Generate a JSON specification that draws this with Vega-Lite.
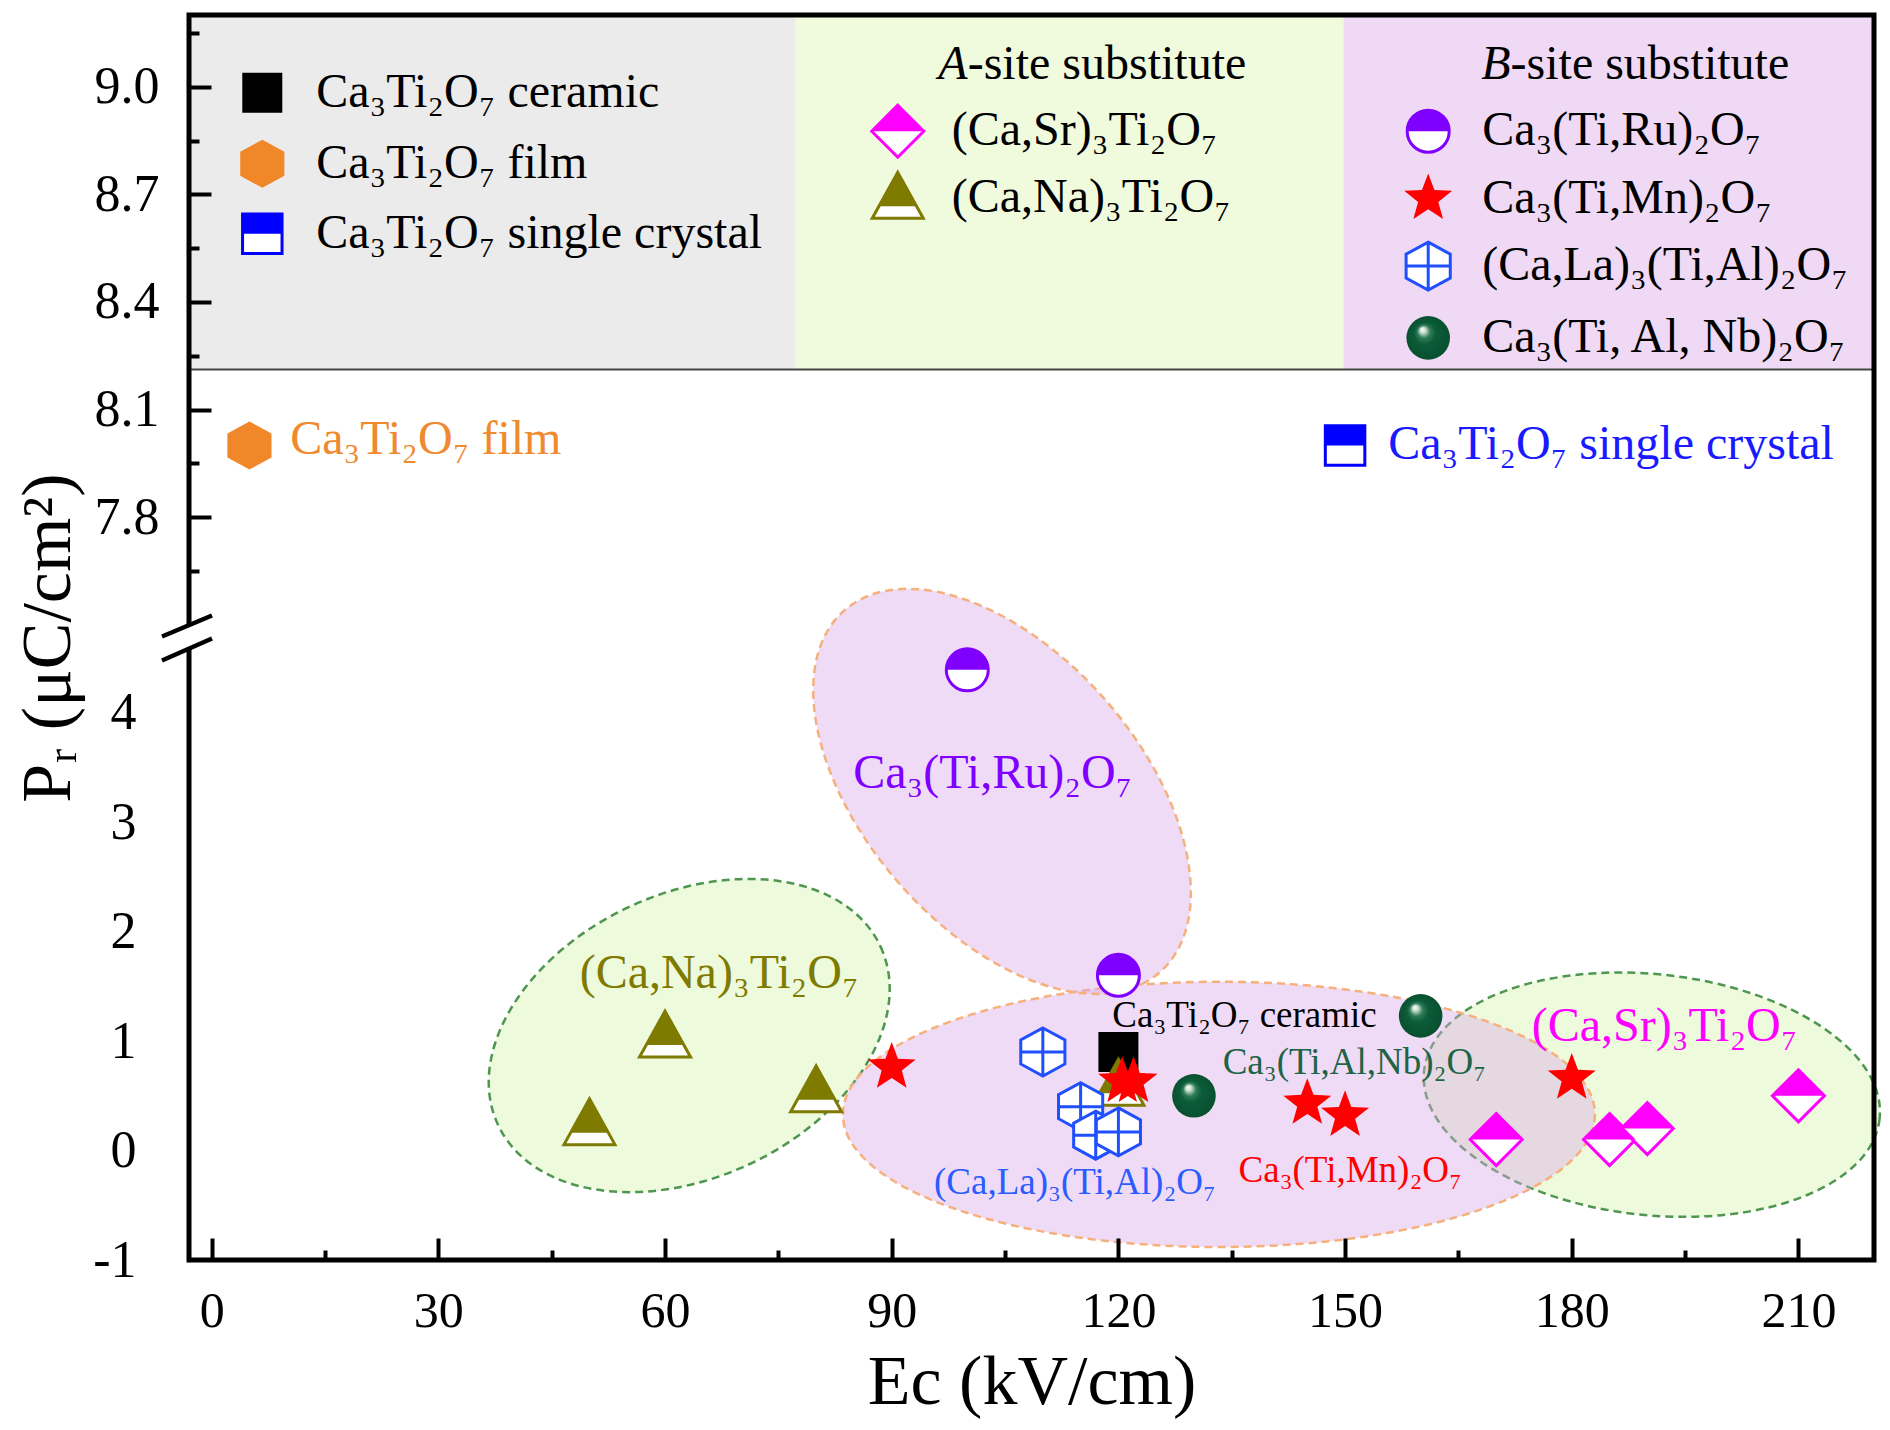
{
  "$schema": "https://vega.github.io/schema/vega-lite/v6.json",
  "width": 1685,
  "height": 1245,
  "autosize": {"type": "none"},
  "padding": {"left": 189, "top": 15, "right": 16, "bottom": 170},
  "background": "white",
  "config": {"view": {"stroke": null}, "font": "Liberation Serif"},
  "datasets": {
    "pts": [
      {"s": "ceramic", "Ec": 120, "Pr": 0.9},
      {"s": "film", "Ec": 5, "Pr": 8.0},
      {"s": "crystal", "Ec": 150, "Pr": 8.0},
      {"s": "Sr", "Ec": 170, "Pr": 0.1},
      {"s": "Sr", "Ec": 185, "Pr": 0.1},
      {"s": "Sr", "Ec": 190, "Pr": 0.2},
      {"s": "Sr", "Ec": 210, "Pr": 0.5},
      {"s": "Na", "Ec": 50, "Pr": 0.24},
      {"s": "Na", "Ec": 60, "Pr": 1.04},
      {"s": "Na", "Ec": 80, "Pr": 0.54},
      {"s": "Na", "Ec": 120, "Pr": 0.6},
      {"s": "Ru", "Ec": 100, "Pr": 4.39},
      {"s": "Ru", "Ec": 120, "Pr": 1.6},
      {"s": "Mn", "Ec": 90, "Pr": 0.76},
      {"s": "Mn", "Ec": 120.5, "Pr": 0.63},
      {"s": "Mn", "Ec": 122, "Pr": 0.63},
      {"s": "Mn", "Ec": 145, "Pr": 0.43},
      {"s": "Mn", "Ec": 150, "Pr": 0.32},
      {"s": "Mn", "Ec": 180, "Pr": 0.66},
      {"s": "La", "Ec": 110, "Pr": 0.9},
      {"s": "La", "Ec": 115, "Pr": 0.4},
      {"s": "La", "Ec": 117, "Pr": 0.14},
      {"s": "La", "Ec": 120, "Pr": 0.17},
      {"s": "Nb", "Ec": 130, "Pr": 0.5},
      {"s": "Nb", "Ec": 160, "Pr": 1.23},
      {"s": "ceramic", "Ec": 6.7, "Pr": 8.983, "label": "Ca\u2083Ti\u2082O\u2087 ceramic"},
      {"s": "film", "Ec": 6.7, "Pr": 8.785, "label": "Ca\u2083Ti\u2082O\u2087 film"},
      {"s": "crystal", "Ec": 6.7, "Pr": 8.59, "label": "Ca\u2083Ti\u2082O\u2087 single crystal"},
      {"s": "Sr", "Ec": 90.8, "Pr": 8.876, "label": "(Ca,Sr)\u2083Ti\u2082O\u2087"},
      {"s": "Na", "Ec": 90.8, "Pr": 8.69, "label": "(Ca,Na)\u2083Ti\u2082O\u2087"},
      {"s": "Ru", "Ec": 161, "Pr": 8.876, "label": "Ca\u2083(Ti,Ru)\u2082O\u2087"},
      {"s": "Mn", "Ec": 161, "Pr": 8.688, "label": "Ca\u2083(Ti,Mn)\u2082O\u2087"},
      {"s": "La", "Ec": 161, "Pr": 8.5, "label": "(Ca,La)\u2083(Ti,Al)\u2082O\u2087"},
      {"s": "Nb", "Ec": 161, "Pr": 8.3, "label": "Ca\u2083(Ti, Al, Nb)\u2082O\u2087"}
    ],
    "ann": [
      {"s": "film", "k": "b", "Ec": 10.4, "Pr": 8.015, "t": "Ca\u2083Ti\u2082O\u2087 film"},
      {"s": "crystal", "k": "b", "Ec": 155.7, "Pr": 8.0, "t": "Ca\u2083Ti\u2082O\u2087 single crystal"},
      {"s": "Ru", "k": "b", "Ec": 84.9, "Pr": 3.44, "t": "Ca\u2083(Ti,Ru)\u2082O\u2087"},
      {"s": "Na", "k": "b", "Ec": 48.7, "Pr": 1.61, "t": "(Ca,Na)\u2083Ti\u2082O\u2087"},
      {"s": "Sr", "k": "b", "Ec": 174.7, "Pr": 1.13, "t": "(Ca,Sr)\u2083Ti\u2082O\u2087"},
      {"s": "ceramic", "k": "s", "Ec": 119.2, "Pr": 1.23, "t": "Ca\u2083Ti\u2082O\u2087 ceramic"},
      {"s": "Nb", "k": "s", "Ec": 133.8, "Pr": 0.8, "t": "Ca\u2083(Ti,Al,Nb)\u2082O\u2087"},
      {"s": "Mn", "k": "s", "Ec": 135.9, "Pr": -0.19, "t": "Ca\u2083(Ti,Mn)\u2082O\u2087"},
      {"s": "La", "k": "s", "Ec": 95.6, "Pr": -0.3, "t": "(Ca,La)\u2083(Ti,Al)\u2082O\u2087"}
    ],
    "hdr": [
      {"p": "it", "t": "A", "Ec": 100.05, "Pr": 9.06},
      {"p": "rm", "t": "-site substitute", "Ec": 100.05, "Pr": 9.06},
      {"p": "it", "t": "B", "Ec": 171.9, "Pr": 9.06},
      {"p": "rm", "t": "-site substitute", "Ec": 171.9, "Pr": 9.06}
    ],
    "ell": [
      {"e": "Na", "Ec": 63.2, "Pr": 1.05},
      {"e": "Sr", "Ec": 190.6, "Pr": 0.51},
      {"e": "B", "Ec": 133.3, "Pr": 0.33},
      {"e": "Ru", "Ec": 104.6, "Pr": 3.28}
    ]
  },
  "layer": [
    {
      "data": {"values": [{}]},
      "mark": {"type": "rect", "fill": "#ebebeb"},
      "encoding": {
        "x": {
          "datum": -3, "type": "quantitative",
          "scale": {"domain": [-3, 220], "nice": false, "zero": false},
          "axis": {
            "values": [0, 15, 30, 45, 60, 75, 90, 105, 120, 135, 150, 165, 180, 195, 210],
            "title": "Ec (kV/cm)",
            "titleFont": "Liberation Serif", "titleFontSize": 70, "titleFontWeight": "normal", "titleColor": "black", "titlePadding": 0,
            "labelFont": "Liberation Serif", "labelFontSize": 50, "labelColor": "black", "labelPadding": 48,
            "labelExpr": "datum.value % 30 === 0 ? datum.label : ''",
            "labelFlush": false, "labelOverlap": false,
            "tickSize": {"condition": {"test": "datum.value % 30 === 0", "value": -22}, "value": -10},
            "tickWidth": 4, "tickColor": "black",
            "domain": false, "grid": false, "zindex": 1
          }
        },
        "x2": {"datum": 77.2},
        "y": {
          "datum": 8.212, "type": "quantitative",
          "scale": {"domain": [-1, 4.69, 7.466, 9.2], "range": [1245, 622, 622, 0], "nice": false, "zero": false},
          "axis": {
            "values": [-1, -0.5, 0, 0.5, 1, 1.5, 2, 2.5, 3, 3.5, 4, 4.5, 7.65, 7.8, 7.95, 8.1, 8.25, 8.4, 8.55, 8.7, 8.85, 9, 9.15],
            "title": "P\u1d63 (\u03bcC/cm\u00b2)",
            "titleFont": "Liberation Serif", "titleFontSize": 70, "titleFontWeight": "normal", "titleColor": "black", "titlePadding": 8,
            "labelFont": "Liberation Serif", "labelFontSize": 52, "labelColor": "black", "labelPadding": 52,
            "labelExpr": "datum.value < 5 ? (round(datum.value*100) % 100 === 0 ? '' + datum.value : '') : (round(datum.value*100) % 30 === 0 ? format(datum.value, '.1f') : '')",
            "labelFlush": false, "labelOverlap": false,
            "tickSize": {"condition": {"test": "datum.value < 5 ? round(datum.value*100) % 100 === 0 : round(datum.value*100) % 30 === 0", "value": -22}, "value": -10},
            "tickWidth": 4, "tickColor": "black",
            "domain": false, "grid": false, "zindex": 1
          }
        },
        "y2": {"datum": 9.2}
      }
    },
    {
      "data": {"values": [{}]},
      "mark": {"type": "rect", "fill": "#f0fadd"},
      "encoding": {"x": {"datum": 77.2, "type": "quantitative"}, "x2": {"datum": 149.8}, "y": {"datum": 8.212, "type": "quantitative"}, "y2": {"datum": 9.2}}
    },
    {
      "data": {"values": [{}]},
      "mark": {"type": "rect", "fill": "#efd9f4"},
      "encoding": {"x": {"datum": 149.8, "type": "quantitative"}, "x2": {"datum": 220}, "y": {"datum": 8.212, "type": "quantitative"}, "y2": {"datum": 9.2}}
    },
    {
      "data": {"values": [{}]},
      "mark": {"type": "rule", "stroke": "#444444", "strokeWidth": 2},
      "encoding": {"x": {"datum": -3, "type": "quantitative"}, "x2": {"datum": 220}, "y": {"datum": 8.212, "type": "quantitative"}}
    },
    {
      "data": {"name": "ell"},
      "transform": [{"filter": "datum.e === 'Na'"}],
      "mark": {"type": "point", "shape": "M 1 0 C 1 0.3717 0.5523 0.673 0 0.673 C -0.5523 0.673 -1 0.3717 -1 0 C -1 -0.3717 -0.5523 -0.673 0 -0.673 C 0.5523 -0.673 1 -0.3717 1 0 Z", "size": 178084, "angle": 335, "filled": true, "fill": "#eefadc", "stroke": "#4f9650", "strokeWidth": 2.5, "strokeDash": [8, 5], "opacity": 1},
      "encoding": {"x": {"field": "Ec", "type": "quantitative"}, "y": {"field": "Pr", "type": "quantitative"}}
    },
    {
      "data": {"name": "ell"},
      "transform": [{"filter": "datum.e === 'Sr'"}],
      "mark": {"type": "point", "shape": "M 1 0 C 1 0.2905 0.5523 0.526 0 0.526 C -0.5523 0.526 -1 0.2905 -1 0 C -1 -0.2905 -0.5523 -0.526 0 -0.526 C 0.5523 -0.526 1 -0.2905 1 0 Z", "size": 209764, "angle": 6, "filled": true, "fill": "#eefadc", "stroke": "#4f9650", "strokeWidth": 2.5, "strokeDash": [8, 5], "opacity": 1},
      "encoding": {"x": {"field": "Ec", "type": "quantitative"}, "y": {"field": "Pr", "type": "quantitative"}}
    },
    {
      "data": {"name": "ell"},
      "transform": [{"filter": "datum.e === 'B'"}],
      "mark": {"type": "point", "shape": "M 1 0 C 1 0.1948 0.5523 0.3527 0 0.3527 C -0.5523 0.3527 -1 0.1948 -1 0 C -1 -0.1948 -0.5523 -0.3527 0 -0.3527 C 0.5523 -0.3527 1 -0.1948 1 0 Z", "size": 565504, "angle": 0, "filled": true, "fill": "#d9a6e8", "fillOpacity": 0.4, "stroke": "#f6b07c", "strokeOpacity": 1, "strokeWidth": 2.5, "strokeDash": [8, 5], "opacity": 1},
      "encoding": {"x": {"field": "Ec", "type": "quantitative"}, "y": {"field": "Pr", "type": "quantitative"}}
    },
    {
      "data": {"name": "ell"},
      "transform": [{"filter": "datum.e === 'Ru'"}],
      "mark": {"type": "point", "shape": "M 1 0 C 1 0.3176 0.5523 0.575 0 0.575 C -0.5523 0.575 -1 0.3176 -1 0 C -1 -0.3176 -0.5523 -0.575 0 -0.575 C 0.5523 -0.575 1 -0.3176 1 0 Z", "size": 230400, "angle": 49, "filled": true, "fill": "#d9a6e8", "fillOpacity": 0.4, "stroke": "#f6b07c", "strokeOpacity": 1, "strokeWidth": 2.5, "strokeDash": [8, 5], "opacity": 1},
      "encoding": {"x": {"field": "Ec", "type": "quantitative"}, "y": {"field": "Pr", "type": "quantitative"}}
    },
    {
      "data": {"name": "pts"},
      "transform": [{"filter": "datum.s === 'ceramic'"}],
      "mark": {"type": "point", "shape": "square", "size": 1600, "filled": true, "fill": "black", "opacity": 1},
      "encoding": {"x": {"field": "Ec", "type": "quantitative"}, "y": {"field": "Pr", "type": "quantitative"}}
    },
    {
      "data": {"name": "pts"},
      "transform": [{"filter": "datum.s === 'Na'"}],
      "mark": {"type": "point", "shape": "M 0 -1 L 1 0.8 L -1 0.8 Z", "size": 2601, "filled": true, "fill": "white", "stroke": "#7f7a00", "strokeWidth": 3, "opacity": 1},
      "encoding": {"x": {"field": "Ec", "type": "quantitative"}, "y": {"field": "Pr", "type": "quantitative"}}
    },
    {
      "data": {"name": "pts"},
      "transform": [{"filter": "datum.s === 'Na'"}],
      "mark": {"type": "point", "shape": "M 0 -1 L 0.74 0.33 L -0.74 0.33 Z", "size": 2601, "filled": true, "fill": "#7f7a00", "strokeWidth": 0, "opacity": 1},
      "encoding": {"x": {"field": "Ec", "type": "quantitative"}, "y": {"field": "Pr", "type": "quantitative"}}
    },
    {
      "data": {"name": "pts"},
      "transform": [{"filter": "datum.s === 'La'"}],
      "mark": {"type": "point", "shape": "M 0 -1 L 0.92 -0.5 L 0.92 0.5 L 0 1 L -0.92 0.5 L -0.92 -0.5 Z M 0 -1 L 0 1 M -0.92 0 L 0.92 0", "size": 2304, "filled": true, "fill": "white", "stroke": "#1f4fff", "strokeWidth": 3, "opacity": 1},
      "encoding": {"x": {"field": "Ec", "type": "quantitative"}, "y": {"field": "Pr", "type": "quantitative"}}
    },
    {
      "data": {"name": "pts"},
      "transform": [{"filter": "datum.s === 'Mn'"}],
      "mark": {"type": "point", "shape": "M 0 -1 L 0.247 -0.34 L 0.951 -0.309 L 0.399 0.13 L 0.588 0.809 L 0 0.42 L -0.588 0.809 L -0.399 0.13 L -0.951 -0.309 L -0.247 -0.34 Z", "size": 2550, "filled": true, "fill": "#ff0000", "strokeWidth": 0, "opacity": 1},
      "encoding": {"x": {"field": "Ec", "type": "quantitative"}, "y": {"field": "Pr", "type": "quantitative"}}
    },
    {
      "data": {"name": "pts"},
      "transform": [{"filter": "datum.s === 'Ru'"}],
      "mark": {"type": "point", "shape": "circle", "size": 1764, "filled": true, "fill": "white", "stroke": "#8000ff", "strokeWidth": 3, "opacity": 1},
      "encoding": {"x": {"field": "Ec", "type": "quantitative"}, "y": {"field": "Pr", "type": "quantitative"}}
    },
    {
      "data": {"name": "pts"},
      "transform": [{"filter": "datum.s === 'Ru'"}],
      "mark": {"type": "point", "shape": "M -1 0 C -1 -0.5523 -0.5523 -1 0 -1 C 0.5523 -1 1 -0.5523 1 0 Z", "size": 1764, "filled": true, "fill": "#8000ff", "strokeWidth": 0, "opacity": 1},
      "encoding": {"x": {"field": "Ec", "type": "quantitative"}, "y": {"field": "Pr", "type": "quantitative"}}
    },
    {
      "data": {"name": "pts"},
      "transform": [{"filter": "datum.s === 'Nb'"}],
      "mark": {"type": "point", "shape": "circle", "size": 1900, "filled": true, "opacity": 1, "strokeWidth": 0,
        "fill": {"gradient": "radial", "x1": 0.36, "y1": 0.3, "r1": 0, "x2": 0.5, "y2": 0.5, "r2": 0.5,
          "stops": [{"offset": 0, "color": "#ffffff"}, {"offset": 0.12, "color": "#cfe3d7"}, {"offset": 0.3, "color": "#2f7a56"}, {"offset": 0.5, "color": "#0b5c39"}, {"offset": 1, "color": "#08502f"}]}},
      "encoding": {"x": {"field": "Ec", "type": "quantitative"}, "y": {"field": "Pr", "type": "quantitative"}}
    },
    {
      "data": {"name": "pts"},
      "transform": [{"filter": "datum.s === 'Sr'"}],
      "mark": {"type": "point", "shape": "M 0 -1 L 1 0 L 0 1 L -1 0 Z", "size": 2704, "filled": true, "fill": "white", "stroke": "#ff00ff", "strokeWidth": 3, "opacity": 1},
      "encoding": {"x": {"field": "Ec", "type": "quantitative"}, "y": {"field": "Pr", "type": "quantitative"}}
    },
    {
      "data": {"name": "pts"},
      "transform": [{"filter": "datum.s === 'Sr'"}],
      "mark": {"type": "point", "shape": "M 0 -1 L 1 0 L -1 0 Z", "size": 2704, "filled": true, "fill": "#ff00ff", "strokeWidth": 0, "opacity": 1},
      "encoding": {"x": {"field": "Ec", "type": "quantitative"}, "y": {"field": "Pr", "type": "quantitative"}}
    },
    {
      "data": {"name": "pts"},
      "transform": [{"filter": "datum.s === 'film'"}],
      "mark": {"type": "point", "shape": "M 0 -1 L 0.92 -0.5 L 0.92 0.5 L 0 1 L -0.92 0.5 L -0.92 -0.5 Z", "size": 2304, "filled": true, "fill": "#f0882a", "strokeWidth": 0, "opacity": 1},
      "encoding": {"x": {"field": "Ec", "type": "quantitative"}, "y": {"field": "Pr", "type": "quantitative"}}
    },
    {
      "data": {"name": "pts"},
      "transform": [{"filter": "datum.s === 'crystal'"}],
      "mark": {"type": "point", "shape": "M -1 -1 L 1 -1 L 1 1 L -1 1 Z", "size": 1560, "filled": true, "fill": "white", "stroke": "#0000ff", "strokeWidth": 3, "opacity": 1},
      "encoding": {"x": {"field": "Ec", "type": "quantitative"}, "y": {"field": "Pr", "type": "quantitative"}}
    },
    {
      "data": {"name": "pts"},
      "transform": [{"filter": "datum.s === 'crystal'"}],
      "mark": {"type": "point", "shape": "M -1 -1 L 1 -1 L 1 0 L -1 0 Z", "size": 1560, "filled": true, "fill": "#0000ff", "strokeWidth": 0, "opacity": 1},
      "encoding": {"x": {"field": "Ec", "type": "quantitative"}, "y": {"field": "Pr", "type": "quantitative"}}
    },
    {
      "data": {"name": "ann"},
      "transform": [{"filter": "datum.k === 'b'"}],
      "mark": {"type": "text", "align": "left", "baseline": "middle", "font": "Liberation Serif", "fontSize": 48},
      "encoding": {
        "x": {"field": "Ec", "type": "quantitative"}, "y": {"field": "Pr", "type": "quantitative"},
        "text": {"field": "t"},
        "color": {"field": "s", "type": "nominal", "legend": null,
          "scale": {"domain": ["film", "crystal", "Ru", "Na", "Sr", "ceramic", "Nb", "Mn", "La"],
                    "range": ["#ef8a2e", "#1a1aff", "#8000ff", "#7f7a00", "#ff00ff", "#000000", "#1e6446", "#ff0000", "#2a5cff"]}}
      }
    },
    {
      "data": {"name": "ann"},
      "transform": [{"filter": "datum.k === 's'"}],
      "mark": {"type": "text", "align": "left", "baseline": "middle", "font": "Liberation Serif", "fontSize": 37},
      "encoding": {
        "x": {"field": "Ec", "type": "quantitative"}, "y": {"field": "Pr", "type": "quantitative"},
        "text": {"field": "t"},
        "color": {"field": "s", "type": "nominal", "legend": null}
      }
    },
    {
      "data": {"name": "pts"},
      "transform": [{"filter": "datum.label"}],
      "mark": {"type": "text", "align": "left", "baseline": "middle", "dx": 54, "font": "Liberation Serif", "fontSize": 48, "fill": "black"},
      "encoding": {"x": {"field": "Ec", "type": "quantitative"}, "y": {"field": "Pr", "type": "quantitative"}, "text": {"field": "label"}}
    },
    {
      "data": {"name": "hdr"},
      "transform": [{"filter": "datum.p === 'it'"}],
      "mark": {"type": "text", "align": "right", "baseline": "middle", "font": "Liberation Serif", "fontSize": 48, "fontStyle": "italic", "fill": "black"},
      "encoding": {"x": {"field": "Ec", "type": "quantitative"}, "y": {"field": "Pr", "type": "quantitative"}, "text": {"field": "t"}}
    },
    {
      "data": {"name": "hdr"},
      "transform": [{"filter": "datum.p === 'rm'"}],
      "mark": {"type": "text", "align": "left", "baseline": "middle", "font": "Liberation Serif", "fontSize": 48, "fill": "black"},
      "encoding": {"x": {"field": "Ec", "type": "quantitative"}, "y": {"field": "Pr", "type": "quantitative"}, "text": {"field": "t"}}
    },
    {
      "data": {"values": [{}]},
      "mark": {"type": "rect", "fill": "transparent", "stroke": "black", "strokeWidth": 5},
      "encoding": {"x": {"datum": -3, "type": "quantitative"}, "x2": {"datum": 220}, "y": {"datum": -1, "type": "quantitative"}, "y2": {"datum": 9.2}}
    },
    {
      "data": {"values": [{}]},
      "mark": {"type": "point", "shape": "M -0.4 -0.306 L 0.4 -0.642 L 0.4 0.289 L -0.4 0.641 Z", "size": 2500, "filled": true, "fill": "white", "strokeWidth": 0, "opacity": 1},
      "encoding": {"x": {"datum": -3, "type": "quantitative"}, "y": {"datum": 4.69, "type": "quantitative"}}
    },
    {
      "data": {"values": [{}]},
      "mark": {"type": "point", "shape": "M -1.08 -0.02 L 0.92 -0.86 M -1.08 0.94 L 0.92 0.06", "size": 2500, "filled": false, "stroke": "black", "strokeWidth": 4.5, "opacity": 1},
      "encoding": {"x": {"datum": -3, "type": "quantitative"}, "y": {"datum": 4.69, "type": "quantitative"}}
    }
  ]
}
